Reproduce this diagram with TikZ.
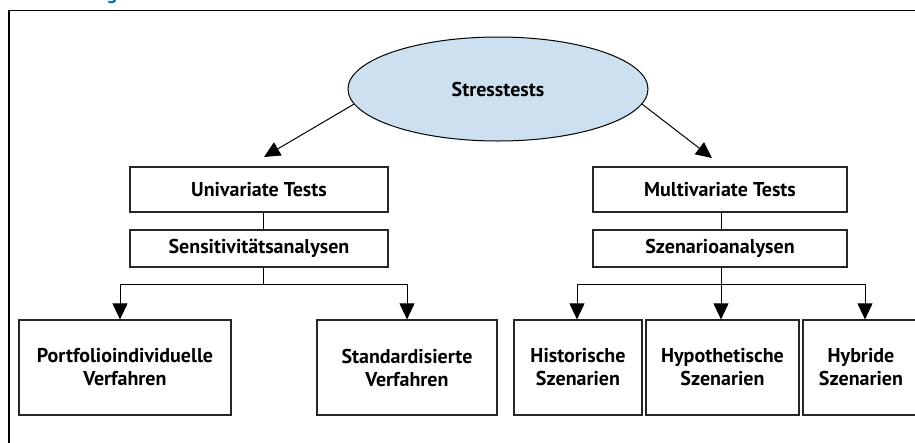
\documentclass[tikz,border=0pt]{standalone}
\usepackage{fontspec}
\setmainfont{PT Sans}
\usetikzlibrary{arrows.meta,shapes.geometric}
\definecolor{ellfill}{RGB}{204,224,240}
\definecolor{capblue}{RGB}{0,110,185}
\tikzset{
  txt/.style={font=\fontsize{20}{23}\selectfont\bfseries, align=center},
  box/.style={txt, draw=black!85, line width=1.2pt, inner sep=0pt},
  arr/.style={line width=1pt, -{Triangle[length=16pt,width=15pt]}},
  ln/.style={line width=1pt}
}
\begin{document}
\begin{tikzpicture}[x=1pt,y=-1pt]
\useasboundingbox (0,0) rectangle (915,442);
% cropped caption fragment and frame
\node[font=\fontsize{20}{24}\selectfont\bfseries, text=capblue, anchor=base, inner sep=0pt] (cap) at (112,-1) {g};
\draw[line width=1.5pt] (9,460) -- (9,10.5) -- (930,10.5);
% nodes
\node[ellipse, draw, line width=1pt, fill=ellfill, minimum width=300pt, minimum height=104pt, inner sep=0pt, txt] (st) at (498,89) {Stresstests};
\node[box, minimum width=258pt, minimum height=45pt] (uni) at (259,189.5) {Univariate Tests};
\node[box, minimum width=258pt, minimum height=37pt] (sens) at (259,248.5) {Sensitivitätsanalysen};
\node[box, minimum width=254pt, minimum height=45pt] (multi) at (720,189.5) {Multivariate Tests};
\node[box, minimum width=254pt, minimum height=37pt] (szen) at (720,248.5) {Szenarioanalysen};
\node[box, minimum width=212pt, minimum height=95pt] (port) at (125,367.5) {Portfolioindividuelle\\Verfahren};
\node[box, minimum width=180pt, minimum height=95pt] (std) at (407,367.5) {Standardisierte\\Verfahren};
\node[box, minimum width=128pt, minimum height=95pt] (hist) at (578,367.5) {Historische\\Szenarien};
\node[box, minimum width=153pt, minimum height=95pt] (hypo) at (722.5,367.5) {Hypothetische\\Szenarien};
\node[box, minimum width=116pt, minimum height=95pt] (hyb) at (861,367.5) {Hybride\\Szenarien};
% connectors
\coordinate (tl) at (264,157);
\coordinate (tr) at (712,158);
\draw[arr] (st.186) -- (tl);
\draw[arr] (st.-6) -- (tr);
\coordinate (bl) at (263,284);
\coordinate (br) at (721,284);
\draw[ln] (uni.south -| bl) -- (sens.north -| bl);
\draw[ln] (multi.south -| br) -- (szen.north -| br);
\draw[ln] (sens.south -| bl) -- (bl);
\draw[ln] (szen.south -| br) -- (br);
\draw[arr] (bl) -| ([xshift=-5pt]port.north);
\draw[arr] (bl) -| (std.north);
\draw[arr] (br) -| ([xshift=-1pt]hist.north);
\draw[arr] (br) -- (hypo.north -| br);
\draw[arr] (br) -| ([xshift=4pt]hyb.north);
\end{tikzpicture}
\end{document}
